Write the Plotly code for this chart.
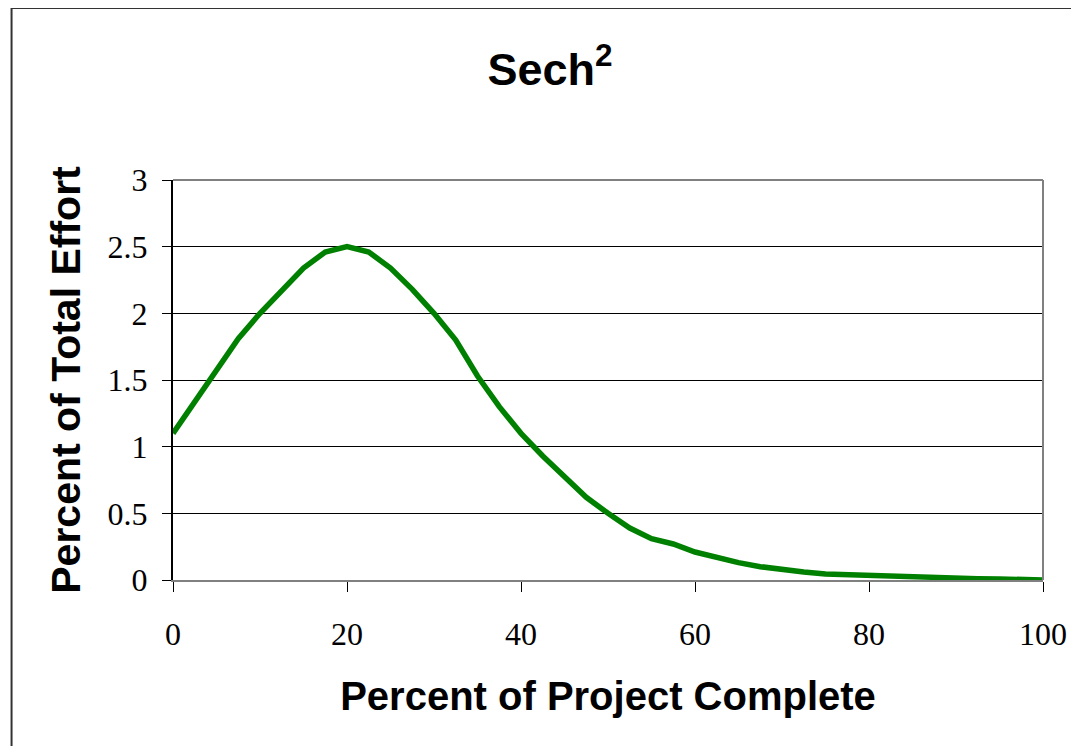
import plotly.graph_objects as go

# Data
pct_complete = [0, 2.5, 5, 7.5, 10, 12.5, 15, 17.5, 20, 22.5, 25, 27.5, 30, 32.5, 35, 37.5,
                40, 42.5, 45, 47.5, 50, 52.5, 55, 57.5, 60, 62.5, 65, 67.5, 70, 72.5, 75,
                77.5, 80, 82.5, 85, 87.5, 90, 92.5, 95, 97.5, 100]
pct_effort = [1.10, 1.34, 1.58, 1.81, 2.00, 2.17, 2.34, 2.46, 2.50, 2.46, 2.34, 2.18, 2.00,
              1.80, 1.53, 1.30, 1.10, 0.93, 0.77, 0.62, 0.50, 0.39, 0.31, 0.27, 0.21, 0.165,
              0.13, 0.10, 0.075, 0.06, 0.045, 0.04, 0.035, 0.025, 0.015, 0.015, 0.015, 0.01,
              0.008, 0.005, 0.0]
x_ticks = [0, 20, 40, 60, 80, 100]
y_ticks = [0, 0.5, 1, 1.5, 2, 2.5, 3]
y_tick_labels = ["0", "0.5", "1", "1.5", "2", "2.5", "3"]

fig = go.Figure()
fig.add_trace(go.Scatter(x=pct_complete, y=pct_effort, mode="lines",
                         line=dict(color="#008000", width=5.5), showlegend=False))

# page body has an 8px margin; size the figure so it fits the 1079x746 window
OFF = 8
W, H = 1079 - OFF, 746 - OFF
L, T = 173 - OFF, 180 - OFF
R = W - (1046 - OFF)
B = H - (580 - OFF)
pw, ph = W - L - R, H - T - B

fig.update_layout(
    width=W, height=H,
    margin=dict(l=L, r=R, t=T, b=B, pad=0),
    paper_bgcolor="white", plot_bgcolor="white",
    title=dict(text="<b>Sech<sup>2</sup></b>", x=(550 - OFF) / W, xanchor="center",
               y=1 - (69 - OFF) / H, yanchor="middle", yref="container",
               font=dict(family="Liberation Sans, Arial, sans-serif", size=45, color="black")),
    xaxis=dict(range=[0, 100], tickvals=x_ticks, ticktext=[str(v) for v in x_ticks],
               showgrid=False, zeroline=False, showline=True, linecolor="#808080", linewidth=2,
               ticks="outside", ticklen=10, tickcolor="black", tickwidth=1,
               ticklabelstandoff=15,
               tickfont=dict(family="Liberation Serif, Times New Roman, serif", size=32, color="black"),
               title=dict(text="<b>Percent of Project Complete</b>", standoff=31,
                          font=dict(family="Liberation Sans, Arial, sans-serif", size=40, color="black"))),
    yaxis=dict(range=[0, 3], tickvals=y_ticks, ticktext=y_tick_labels,
               showgrid=True, gridcolor="black", gridwidth=1, zeroline=False,
               showline=True, linecolor="black", linewidth=2,
               ticks="outside", ticklen=9, tickcolor="black", tickwidth=1,
               ticklabelstandoff=8,
               tickfont=dict(family="Liberation Serif, Times New Roman, serif", size=32, color="black"),
               title=dict(text="<b>Percent of Total Effort</b>", standoff=14,
                          font=dict(family="Liberation Sans, Arial, sans-serif", size=41, color="black"))),
)

# gray plot-area border (top and right)
fig.add_shape(type="line", xref="paper", yref="paper", x0=0, x1=1, y0=1, y1=1,
              line=dict(color="#808080", width=2), layer="above")
fig.add_shape(type="line", xref="paper", yref="paper", x0=1, x1=1, y0=0, y1=1,
              line=dict(color="#808080", width=2), layer="above")

# outer chart border (left and top visible, extends past edges)
x_left = (11 - OFF - L) / pw
y_top = (H - B - (8 - OFF)) / ph
fig.add_shape(type="line", xref="paper", yref="paper", x0=x_left, x1=1.2, y0=y_top, y1=y_top,
              line=dict(color="#333333", width=2))
fig.add_shape(type="line", xref="paper", yref="paper", x0=x_left, x1=x_left, y0=y_top, y1=-1,
              line=dict(color="#333333", width=2))

fig.write_html("out.html")
